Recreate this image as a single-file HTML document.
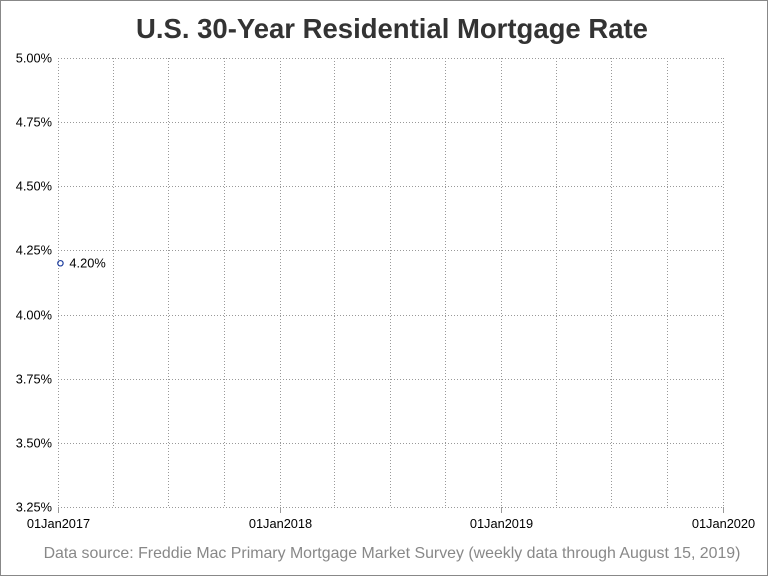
<!DOCTYPE html>
<html><head><meta charset="utf-8"><style>
body{margin:0;background:#fff;}
svg{display:block;font-family:"Liberation Sans",sans-serif;}
</style></head><body>
<svg id="chart" width="768" height="576">
<rect x="0.5" y="0.5" width="767" height="575" fill="#fff" stroke="#888"/>
<text x="392" y="38" text-anchor="middle" font-size="27.5" font-weight="bold" fill="#333">U.S. 30-Year Residential Mortgage Rate</text>
<g id="grid"></g><g id="axes"></g><g id="marks"></g>
<text x="392" y="558" text-anchor="middle" font-size="15.9" fill="#888">Data source: Freddie Mac Primary Mortgage Market Survey (weekly data through August 15, 2019)</text>
</svg>
<script>
const yTicks=[3.25,3.5,3.75,4.0,4.25,4.5,4.75,5.0];
const xYearLabels=["01Jan2017","01Jan2018","01Jan2019","01Jan2020"];
const dates=["2017-01-05"];
const rates=[4.20];
const L=58,R=723,T=58,B=507;
const x0=Date.UTC(2017,0,1),x1=Date.UTC(2020,0,1);
function xs(t){return L+(t-x0)/(x1-x0)*(R-L);}
function ys(v){return B-(v-3.25)/(5.0-3.25)*(B-T);}
const NS="http://www.w3.org/2000/svg";
function mk(tag,attrs,parent){const e=document.createElementNS(NS,tag);for(const k in attrs)e.setAttribute(k,attrs[k]);parent.appendChild(e);return e;}
const grid=document.getElementById('grid'),axes=document.getElementById('axes'),marks=document.getElementById('marks');
yTicks.forEach(v=>{
  const y=Math.round(ys(v))+0.5;
  const l=mk('line',{x1:L,x2:R,y1:y,y2:y,stroke:'#999','stroke-dasharray':'1,2'},grid);
  
  
  const t=mk('text',{x:L-6,y:y+4,'text-anchor':'end','font-size':'12.8',fill:'#000'},axes);
  
  
  t.textContent=v.toFixed(2)+'%';
});
for(let yr=2017;yr<=2019;yr++)for(let q=0;q<4;q++){
  const xx=Math.round(xs(Date.UTC(yr,q*3,1)))+0.5;
  const l=mk('line',{x1:xx,x2:xx,y1:T,y2:B,stroke:'#999','stroke-dasharray':'1,2'},grid);
  
  
}
{const xx=Math.round(xs(x1))+0.5;
const l=mk('line',{x1:xx,x2:xx,y1:T,y2:B,stroke:'#999','stroke-dasharray':'1,2'},grid);

}
xYearLabels.forEach((lab,i)=>{
  const xx=Math.round(xs(Date.UTC(2017+i,0,1)))+0.5;
  const tk=mk('line',{x1:xx,x2:xx,y1:B,y2:B+6,stroke:'#999'},axes);
  
  
  const t=mk('text',{x:xx,y:B+21,'text-anchor':'middle','font-size':'12.8',fill:'#000'},axes);
  
  
  t.textContent=lab;
});
dates.forEach((d,i)=>{
  const p=d.split('-').map(Number);
  const cx=xs(Date.UTC(p[0],p[1]-1,p[2])),cy=ys(rates[i]);
  const c=mk('circle',{cx:cx,cy:cy,r:2.7,fill:'none',stroke:'#1f3f9f','stroke-width':1.2},marks);
  
  
  const t=mk('text',{x:cx+9,y:cy+4,'font-size':'12.8',fill:'#000'},marks);
  
  
  t.textContent=rates[i].toFixed(2)+'%';
});
</script>
</body></html>
